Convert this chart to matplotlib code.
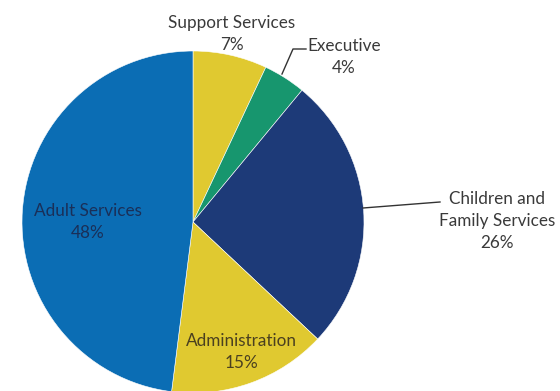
import matplotlib.pyplot as plt

# budget share by division
divisions = ["Support Services", "Executive", "Children and\nFamily Services",
             "Administration", "Adult Services"]
shares = [7, 4, 26, 15, 48]
colors = ["#E0C930", "#17966E", "#1D3A78", "#E0C930", "#0B6DB4"]

W, H = 560, 391


def py(y):
    # pixel rows counted from the top
    return H - y


fig = plt.figure(figsize=(5.6, 3.91), dpi=100)
ax = fig.add_axes([0, 0, 1, 1])

ax.pie(shares, colors=colors, startangle=90, counterclock=False,
       center=(193, py(222)), radius=171, frame=True,
       wedgeprops=dict(edgecolor="white", linewidth=0.4))
ax.set_xlim(0, W)
ax.set_ylim(0, H)
ax.set_aspect("equal")
ax.axis("off")

font = dict(family=["Lato", "DejaVu Sans"], fontsize=12.3, ha="center",
            va="center", linespacing=1.45)
dark = "#3a3a3a"

ax.text(232, py(34), f"{divisions[0]}\n{shares[0]}%", color=dark, **font)
ax.text(344, py(57), f"{divisions[1]}\n{shares[1]}%", color=dark, **font)
ax.text(497, py(221), f"{divisions[2]}\n{shares[2]}%", color=dark, **font)
ax.text(241, py(352), f"{divisions[3]}\n{shares[3]}%", color="#4a4020", **font)
ax.text(88, py(222), f"{divisions[4]}\n{shares[4]}%", color="#1a2f58", **font)

# leader lines
ax.plot([282, 293, 306], [py(74), py(49), py(49)], color="#333333", lw=1)
ax.plot([363, 440], [py(208), py(202)], color="#333333", lw=1)

fig.savefig("out.png", dpi=100)
